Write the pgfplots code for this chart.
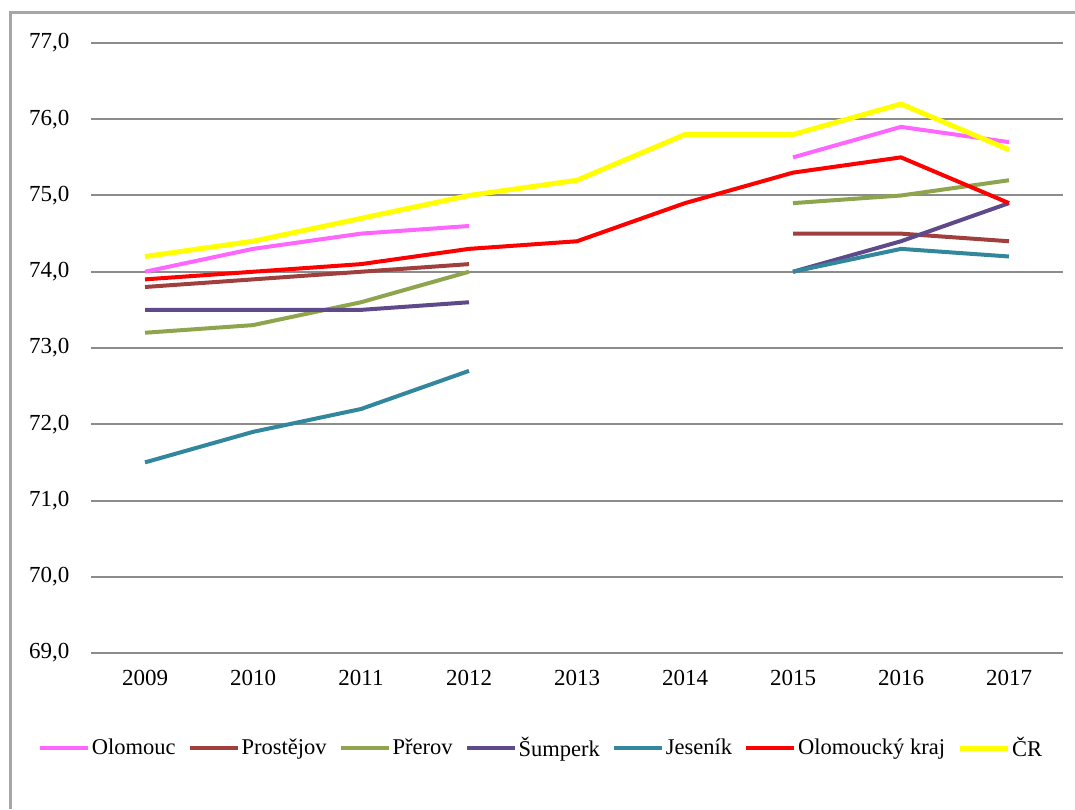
\documentclass[border=0pt]{standalone}
\usepackage{fontspec}
\setmainfont{Liberation Serif}
\usepackage{pgfplots}
\pgfplotsset{compat=1.18}
\definecolor{cOlo}{HTML}{FF66FF}
\definecolor{cPro}{HTML}{A0403E}
\definecolor{cPre}{HTML}{8EA54E}
\definecolor{cSum}{HTML}{5E4A8A}
\definecolor{cJes}{HTML}{32879C}
\definecolor{cKraj}{HTML}{FF0000}
\definecolor{cCR}{HTML}{FFFF00}
\definecolor{gridc}{HTML}{8C8C8C}
\definecolor{framec}{HTML}{A6A6A6}
\begin{document}
\fontsize{22}{26}\selectfont
\begin{tikzpicture}[x=1pt,y=1pt]
\path[use as bounding box] (0,0) rectangle (1075,809);
\draw[framec, line width=3pt] (10,0) -- (10,796) -- (1075,796);
\begin{axis}[
  at={(91pt,156pt)}, anchor=south west,
  scale only axis, width=972pt, height=610pt,
  xmin=-0.5, xmax=8.5, ymin=69, ymax=77,
  xtick={0,...,8},
  xticklabels={2009,2010,2011,2012,2013,2014,2015,2016,2017},
  ytick={69,70,...,77},
  ymajorgrids, grid style={gridc, line width=2pt},
  axis line style={draw=none},
  major tick length=0pt,
  tick style={draw=none},
  /pgf/number format/.cd, use comma, fixed, fixed zerofill, precision=1, assume math mode=true,
  /pgfplots/.cd,
  ticklabel style={font=\rmfamily\fontsize{23}{27}\selectfont, text=black},
  yticklabel style={xshift=-14pt},
  xticklabel style={yshift=-10pt},
  unbounded coords=jump,
  every axis plot/.append style={line width=4pt, line join=round},
  legend columns=7,
  legend style={at={(450pt,-95pt)}, anchor=center, draw=none, fill=none,
    font=\rmfamily\fontsize{22.5}{26}\selectfont, text=black,
    /tikz/every even column/.append style={column sep=10pt}},
  legend cell align=left,
  legend image code/.code={\draw[#1] (0pt,0pt) -- (48pt,0pt);},
]
\addplot[cOlo] coordinates {(0,74.0) (1,74.3) (2,74.5) (3,74.6) (4,nan) (5,nan) (6,75.5) (7,75.9) (8,75.7)};
\addlegendentry{Olomouc}
\addplot[cPro] coordinates {(0,73.8) (1,73.9) (2,74.0) (3,74.1) (4,nan) (5,nan) (6,74.5) (7,74.5) (8,74.4)};
\addlegendentry{Prostějov}
\addplot[cPre] coordinates {(0,73.2) (1,73.3) (2,73.6) (3,74.0) (4,nan) (5,nan) (6,74.9) (7,75.0) (8,75.2)};
\addlegendentry{Přerov}
\addplot[cSum] coordinates {(0,73.5) (1,73.5) (2,73.5) (3,73.6) (4,nan) (5,nan) (6,74.0) (7,74.4) (8,74.9)};
\addlegendentry{Šumperk}
\addplot[cJes] coordinates {(0,71.5) (1,71.9) (2,72.2) (3,72.7) (4,nan) (5,nan) (6,74.0) (7,74.3) (8,74.2)};
\addlegendentry{Jeseník}
\addplot[cKraj] coordinates {(0,73.9) (1,74.0) (2,74.1) (3,74.3) (4,74.4) (5,74.9) (6,75.3) (7,75.5) (8,74.9)};
\addlegendentry{Olomoucký kraj}
\addplot[cCR, line width=5pt] coordinates {(0,74.2) (1,74.4) (2,74.7) (3,75.0) (4,75.2) (5,75.8) (6,75.8) (7,76.2) (8,75.6)};
\addlegendentry{ČR}
\end{axis}
\end{tikzpicture}
\end{document}
